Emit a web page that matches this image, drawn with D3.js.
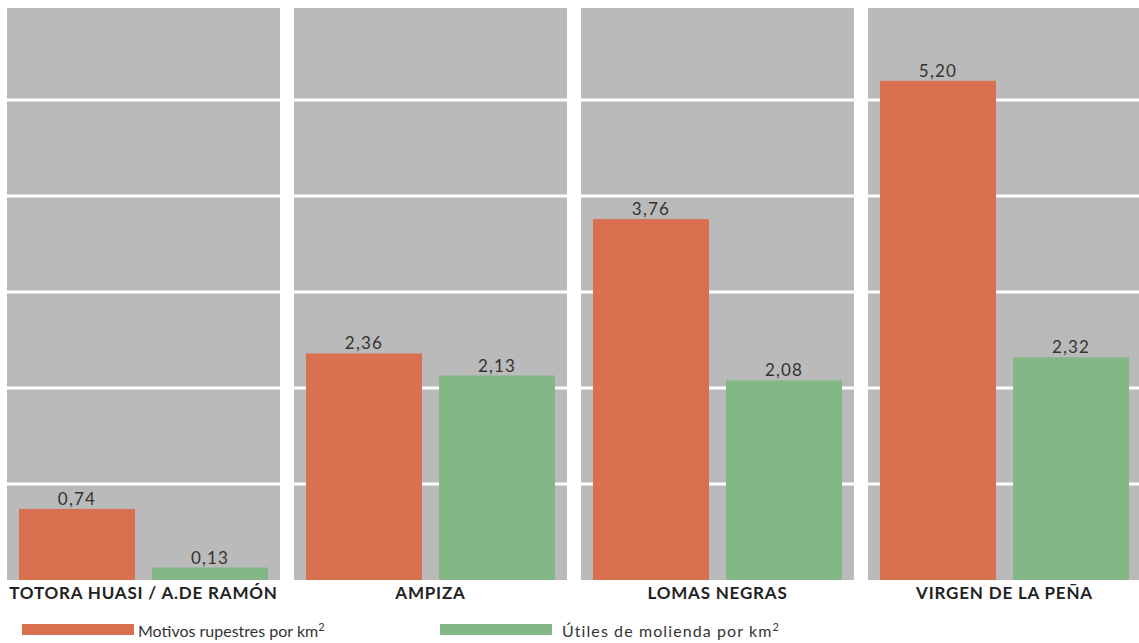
<!DOCTYPE html>
<html>
<head>
<meta charset="utf-8">
<script src="https://cdn.jsdelivr.net/npm/d3@7"></script>
<style>
  html, body { margin: 0; padding: 0; background: #ffffff; }
  svg { display: block; }
</style>
</head>
<body>
<svg id="chart" width="1139" height="643"></svg>
<script>
// Sites and densities per km²
const sites = ["TOTORA HUASI / A.DE RAMÓN", "AMPIZA", "LOMAS NEGRAS", "VIRGEN DE LA PEÑA"];
const seriesKeys = ["motivos", "utiles"];
const seriesLabels = ["Motivos rupestres por km", "Útiles de molienda por km"];
const motivos = [0.74, 2.36, 3.76, 5.20];
const utiles = [0.13, 2.13, 2.08, 2.32];
const gridTicks = [0, 1, 2, 3, 4, 5];

const colors = { motivos: "#d9704f", utiles: "#83b886" };
const fmt = v => d3.format(".2f")(v).replace(".", ",");

const svg = d3.select("#chart");
const plotTop = 8, baseline = 580;

const x0 = d3.scaleBand().domain(sites).range([7, 1141]).paddingInner(0.0488).paddingOuter(0);
const x1 = d3.scaleBand().domain(seriesKeys).range([0, x0.bandwidth()]).paddingInner(0.128).paddingOuter(0.09);
const y = d3.scaleLinear().domain([0, 6]).range([baseline, baseline - 6 * 96]);

const data = sites.map((s, i) => ({ site: s, motivos: motivos[i], utiles: utiles[i] }));

const panel = svg.selectAll("g.panel").data(data).join("g")
  .attr("class", "panel")
  .attr("transform", d => `translate(${x0(d.site)},0)`);

// gray panel background
panel.append("rect")
  .attr("x", 0).attr("y", plotTop)
  .attr("width", x0.bandwidth()).attr("height", baseline - plotTop)
  .attr("fill", "#bababa");

// white horizontal gridlines
panel.selectAll("line.grid").data(gridTicks.filter(t => t > 0)).join("line")
  .attr("class", "grid")
  .attr("x1", 0).attr("x2", x0.bandwidth())
  .attr("y1", d => y(d)).attr("y2", d => y(d))
  .attr("stroke", "#ffffff").attr("stroke-width", 3);

// bars
panel.selectAll("rect.bar").data(d => seriesKeys.map(k => ({ key: k, value: d[k] }))).join("rect")
  .attr("class", "bar")
  .attr("x", d => x1(d.key))
  .attr("y", d => y(d.value))
  .attr("width", x1.bandwidth())
  .attr("height", d => y(0) - y(d.value))
  .attr("fill", d => colors[d.key]);

// value labels
panel.selectAll("text.val").data(d => seriesKeys.map(k => ({ key: k, value: d[k] }))).join("text")
  .attr("class", "val")
  .attr("x", d => x1(d.key) + x1.bandwidth() / 2)
  .attr("y", d => y(d.value) - 4)
  .attr("text-anchor", "middle")
  .attr("font-family", "Lato, 'DejaVu Sans', sans-serif")
  .attr("font-size", 17)
  .attr("letter-spacing", 1.2)
  .attr("fill", "#333333")
  .text(d => fmt(d.value));

// site names
panel.append("text")
  .attr("x", x0.bandwidth() / 2)
  .attr("y", 599)
  .attr("text-anchor", "middle")
  .attr("font-family", "Lato, 'DejaVu Sans', sans-serif")
  .attr("font-weight", 700)
  .attr("font-size", 17)
  .attr("letter-spacing", 0.8)
  .attr("fill", "#222222")
  .text(d => d.site);

// legend
const legendX = [22, 440];
const legendSpacing = [0, 1.1];
const legend = svg.selectAll("g.legend").data(seriesKeys).join("g")
  .attr("class", "legend")
  .attr("transform", (d, i) => `translate(${legendX[i]},0)`);

legend.append("rect")
  .attr("x", 0).attr("y", 624)
  .attr("width", 112).attr("height", 11)
  .attr("fill", d => colors[d]);

const lt = legend.append("text")
  .attr("x", (d, i) => i === 0 ? 116 : 122)
  .attr("y", 637)
  .attr("font-family", "Lato, 'DejaVu Sans', sans-serif")
  .attr("font-size", 16)
  .attr("letter-spacing", (d, i) => legendSpacing[i])
  .attr("fill", "#333333");
lt.append("tspan").text((d, i) => seriesLabels[i]);
lt.append("tspan").attr("dy", -6).attr("font-size", 11).text("2");
</script>
</body>
</html>
